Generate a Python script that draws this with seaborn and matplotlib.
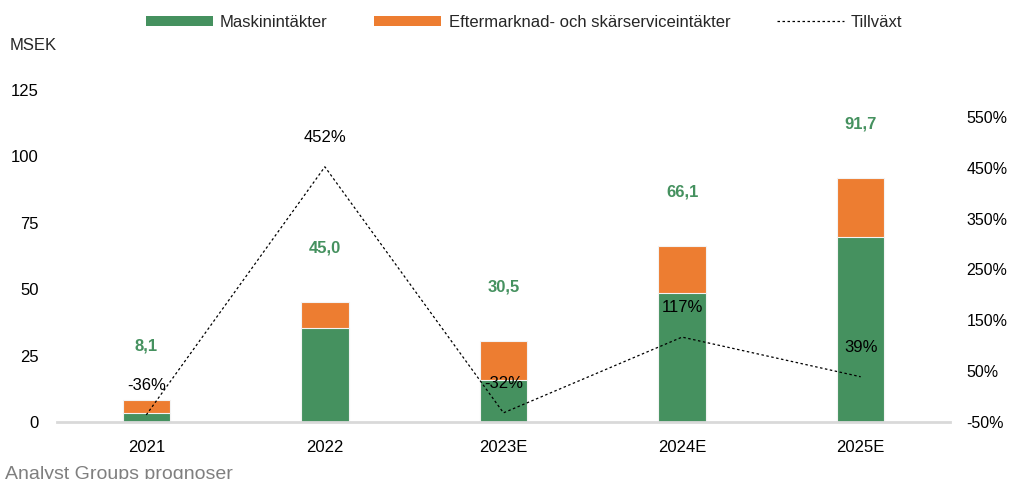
import numpy as np
import pandas as pd
import matplotlib
matplotlib.use("Agg")
import matplotlib.pyplot as plt
from matplotlib.patches import Patch
from matplotlib.lines import Line2D
import seaborn as sns

# Data (MSEK)
years = ["2021", "2022", "2023E", "2024E", "2025E"]
machine_revenue = [3.4, 35.4, 15.8, 48.6, 69.7]
total_revenue = [8.1, 45.0, 30.5, 66.1, 91.7]
growth_pct = [-36, 452, -32, 117, 39]
left_ticks = [0, 25, 50, 75, 100, 125]
right_ticks = [-50, 50, 150, 250, 350, 450, 550]

GREEN = "#45915F"
ORANGE = "#ED7D31"

sns.set_theme(style="white")
plt.rcParams["font.family"] = ["Liberation Sans Narrow", "Liberation Sans", "DejaVu Sans"]

df = pd.DataFrame({
    "year": years,
    "machine": machine_revenue,
    "total": total_revenue,
    "growth": growth_pct,
})
df["pos"] = np.arange(len(df))

fig = plt.figure(figsize=(10.12, 4.79), dpi=100)
ax = fig.add_axes([0.0563, 0.119, 0.8824, 0.693])

# Stacked bars: total (orange) underneath, machine revenue (green) on top of it
sns.barplot(data=df, x="year", y="total", color=ORANGE, width=0.265,
            saturation=1, edgecolor="#F3F3F3", linewidth=0.8, ax=ax)
sns.barplot(data=df, x="year", y="machine", color=GREEN, width=0.265,
            saturation=1, edgecolor="#F3F3F3", linewidth=0.8, ax=ax)

ax.set_xlim(-0.5, len(years) - 0.5)
ax.set_ylim(0, 125)
ax.set_yticks(left_ticks)
ax.set_yticklabels([str(t) for t in left_ticks])
ax.set_xlabel("")
ax.set_ylabel("")
ax.tick_params(axis="y", length=0, pad=13, labelsize=12, colors="black")
ax.tick_params(axis="x", length=0, pad=13, labelsize=12, colors="black")
for s in ["top", "right", "left"]:
    ax.spines[s].set_visible(False)
ax.spines["bottom"].set_color("#D9D9D9")
ax.spines["bottom"].set_linewidth(2)

# Total labels above bars
for x, t in zip(df["pos"], df["total"]):
    ax.annotate(f"{t:.1f}".replace(".", ","), (x, t), xytext=(0, 39),
                textcoords="offset points", ha="center", va="center",
                fontsize=12, fontweight="bold", color=GREEN)

# Growth line on secondary axis
ax2 = ax.twinx()
sns.lineplot(data=df, x="pos", y="growth", color="black", linewidth=0.9,
             linestyle=(0, (2, 2)), ax=ax2)
ax2.set_ylim(-50, 603)
ax2.set_yticks(right_ticks)
ax2.set_yticklabels([f"{t}%" for t in right_ticks])
ax2.set_ylabel("")
ax2.tick_params(axis="y", length=0, pad=12, labelsize=11.5, colors="black")
for s in ax2.spines.values():
    s.set_visible(False)

for x, g in zip(df["pos"], df["growth"]):
    ax2.annotate(f"{g}%", (x, g), xytext=(0, 21), textcoords="offset points",
                 ha="center", va="center", fontsize=12, color="black")

ax.set_zorder(ax2.get_zorder() - 1)
ax2.patch.set_visible(False)

fig.text(0.01, 0.905, "MSEK", fontsize=12, ha="left", va="center")
fig.text(0.005, -0.008, "Analyst Groups prognoser", fontsize=14,
         color="#7F7F7F", ha="left", va="bottom")

handles = [
    Patch(facecolor=GREEN, edgecolor="none", label="Maskinintäkter"),
    Patch(facecolor=ORANGE, edgecolor="none", label="Eftermarknad- och skärserviceintäkter"),
    Line2D([0], [0], color="black", linewidth=0.9, linestyle=(0, (2, 2)), label="Tillväxt"),
]
fig.legend(handles=handles, loc="center", bbox_to_anchor=(0.518, 0.953), ncol=3,
           frameon=False, fontsize=12, handlelength=4.0, handleheight=0.6,
           handletextpad=0.45, columnspacing=2.8)

fig.savefig("out.png", dpi=100)
